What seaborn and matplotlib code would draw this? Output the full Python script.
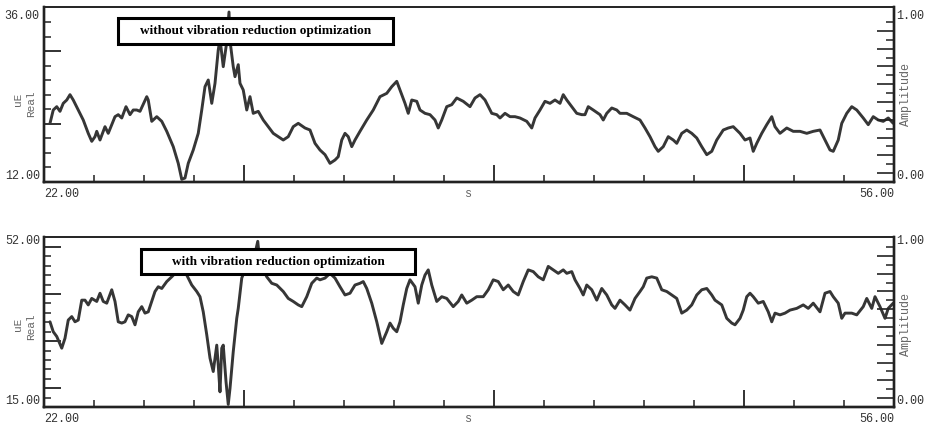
import numpy as np
import pandas as pd
import seaborn as sns
import matplotlib.pyplot as plt
from matplotlib.patches import Rectangle

# strain trace without vibration reduction optimization (s, uE)
t_without = [
    22.24, 22.37, 22.51, 22.64, 22.77, 22.91, 23.04, 23.17, 23.37, 23.57,
    23.77, 23.91, 24.04, 24.11, 24.24, 24.44, 24.57, 24.84, 24.97, 25.11,
    25.28, 25.44, 25.57, 25.71, 25.84, 26.11, 26.17, 26.31, 26.51, 26.71,
    26.91, 27.17, 27.37, 27.51, 27.64, 27.77, 27.97, 28.17, 28.31, 28.44,
    28.57, 28.71, 28.84, 28.97, 29.04, 29.17, 29.31, 29.40, 29.44, 29.57,
    29.64, 29.77, 29.84, 29.97, 30.11, 30.24, 30.37, 30.57, 30.77, 30.91,
    31.17, 31.37, 31.57, 31.77, 31.97, 32.17, 32.44, 32.64, 32.84, 33.04,
    33.24, 33.44, 33.64, 33.77, 33.91, 34.04, 34.17, 34.31, 34.44, 34.64,
    34.91, 35.17, 35.44, 35.71, 35.91, 36.11, 36.24, 36.44, 36.57, 36.71,
    36.91, 37.04, 37.24, 37.44, 37.64, 37.77, 37.91, 38.11, 38.31, 38.51,
    38.77, 39.04, 39.24, 39.44, 39.64, 39.91, 40.11, 40.24, 40.44, 40.64,
    40.84, 41.04, 41.31, 41.51, 41.64, 41.84, 42.04, 42.24, 42.44, 42.64,
    42.77, 42.91, 43.11, 43.31, 43.51, 43.64, 43.77, 43.97, 44.24, 44.37,
    44.51, 44.71, 44.91, 45.04, 45.31, 45.57, 45.84, 46.04, 46.24, 46.44,
    46.57, 46.77, 46.97, 47.17, 47.31, 47.51, 47.71, 47.91, 48.11, 48.31,
    48.51, 48.71, 48.91, 49.17, 49.37, 49.57, 49.84, 50.04, 50.24, 50.37,
    50.51, 50.71, 50.91, 51.11, 51.24, 51.44, 51.71, 51.97, 52.24, 52.51,
    52.77, 53.04, 53.24, 53.44, 53.57, 53.77, 53.91, 54.11, 54.31, 54.51,
    54.77, 54.97, 55.17, 55.37, 55.57, 55.77, 55.97,
]
uE_without = [
    20.8, 22.8, 23.3, 22.6, 23.8, 24.3, 25.1, 24.3, 22.8, 21.3,
    19.3, 18.1, 18.8, 19.6, 18.3, 20.3, 19.3, 21.8, 22.1, 21.6,
    23.3, 22.1, 22.8, 22.8, 22.6, 24.8, 24.3, 21.1, 21.8, 21.1,
    19.6, 17.3, 14.8, 12.4, 12.6, 14.8, 16.8, 19.3, 22.8, 26.3,
    27.3, 23.8, 26.8, 31.8, 33.5, 29.3, 33.0, 37.5, 33.2, 29.3,
    27.8, 29.6, 26.8, 25.8, 22.8, 24.8, 22.3, 22.6, 21.3, 20.6,
    19.3, 18.8, 18.3, 18.8, 20.3, 20.8, 20.1, 19.8, 17.8, 16.8,
    16.1, 14.8, 15.3, 15.8, 18.3, 19.3, 18.8, 17.3, 18.3, 19.6,
    21.3, 22.8, 24.8, 25.3, 26.3, 27.1, 25.8, 23.8, 22.3, 24.3,
    24.1, 22.8, 22.3, 22.1, 21.3, 20.1, 21.3, 23.3, 23.6, 24.6,
    24.1, 23.3, 24.6, 25.1, 24.3, 22.3, 22.1, 21.6, 22.3, 21.8,
    21.8, 21.6, 21.1, 20.1, 21.6, 22.8, 24.1, 23.8, 24.3, 23.8,
    25.1, 24.3, 23.3, 22.3, 22.1, 22.1, 23.3, 22.8, 22.1, 21.3,
    22.3, 23.1, 22.8, 22.3, 22.3, 21.8, 21.3, 20.1, 18.8, 17.3,
    16.6, 17.3, 18.8, 18.3, 17.8, 19.3, 19.8, 19.3, 18.6, 17.3,
    16.1, 16.6, 18.3, 19.8, 20.1, 20.3, 19.3, 18.3, 18.6, 16.6,
    17.8, 19.3, 20.6, 21.8, 20.3, 19.3, 20.1, 19.6, 19.6, 19.3,
    19.6, 19.8, 18.3, 16.8, 16.6, 18.3, 20.8, 22.3, 23.3, 22.8,
    21.6, 20.6, 21.8, 21.3, 21.1, 21.6, 20.8,
]

# strain trace with vibration reduction optimization (s, uE)
t_with = [
    22.24, 22.37, 22.51, 22.71, 22.84, 22.97, 23.11, 23.24, 23.37, 23.51,
    23.64, 23.77, 23.91, 24.11, 24.24, 24.37, 24.51, 24.71, 24.84, 24.97,
    25.11, 25.24, 25.37, 25.51, 25.64, 25.77, 25.91, 26.04, 26.17, 26.31,
    26.44, 26.57, 26.71, 26.91, 27.11, 27.31, 27.51, 27.71, 27.91, 28.11,
    28.24, 28.37, 28.51, 28.64, 28.77, 28.91, 28.97, 29.04, 29.11, 29.17,
    29.28, 29.37, 29.44, 29.57, 29.71, 29.77, 29.91, 30.04, 30.17, 30.37,
    30.55, 30.64, 30.77, 30.91, 31.11, 31.31, 31.57, 31.77, 31.97, 32.17,
    32.31, 32.51, 32.71, 32.91, 33.04, 33.24, 33.44, 33.64, 33.84, 34.04,
    34.24, 34.44, 34.64, 34.77, 34.91, 35.11, 35.31, 35.51, 35.71, 35.84,
    35.97, 36.11, 36.24, 36.37, 36.51, 36.64, 36.84, 36.97, 37.11, 37.24,
    37.37, 37.51, 37.71, 37.91, 38.11, 38.37, 38.57, 38.71, 38.91, 39.11,
    39.31, 39.57, 39.77, 39.97, 40.17, 40.37, 40.57, 40.77, 40.97, 41.17,
    41.37, 41.57, 41.77, 41.97, 42.17, 42.37, 42.57, 42.77, 42.91, 43.11,
    43.24, 43.44, 43.57, 43.71, 43.91, 44.11, 44.31, 44.51, 44.71, 44.84,
    45.04, 45.24, 45.44, 45.64, 45.84, 45.97, 46.11, 46.31, 46.51, 46.71,
    46.91, 47.11, 47.31, 47.51, 47.71, 47.91, 48.11, 48.31, 48.51, 48.71,
    48.84, 49.11, 49.31, 49.51, 49.64, 49.84, 49.97, 50.11, 50.24, 50.37,
    50.57, 50.77, 50.97, 51.11, 51.24, 51.44, 51.64, 51.84, 52.11, 52.37,
    52.57, 52.77, 53.04, 53.24, 53.44, 53.57, 53.77, 53.91, 54.04, 54.31,
    54.51, 54.77, 54.91, 55.11, 55.24, 55.44, 55.64, 55.77, 55.97,
]
uE_with = [
    34.7, 32.4, 31.3, 28.6, 30.9, 35.1, 35.9, 34.7, 35.1, 39.7,
    39.7, 38.6, 40.1, 39.4, 41.3, 39.4, 39.0, 42.1, 39.4, 34.7,
    34.4, 34.7, 36.3, 35.9, 34.0, 37.0, 38.2, 36.7, 37.0, 39.4,
    41.7, 42.8, 42.4, 44.0, 45.1, 46.3, 46.3, 45.5, 43.2, 41.7,
    40.5, 37.0, 31.7, 26.3, 23.2, 29.3, 24.7, 18.5, 28.6, 29.3,
    20.9, 15.6, 19.3, 27.8, 35.5, 37.8, 44.8, 46.7, 48.2, 48.6,
    53.3, 48.2, 46.7, 45.1, 43.6, 43.2, 41.7, 40.1, 39.4, 38.6,
    38.2, 40.5, 43.6, 44.8, 44.4, 44.8, 45.9, 44.8, 42.8, 40.9,
    41.3, 43.2, 43.6, 44.0, 42.4, 39.0, 34.7, 29.7, 32.4, 34.4,
    33.2, 32.4, 34.7, 38.6, 42.4, 44.4, 42.8, 39.0, 43.2, 45.5,
    46.7, 43.2, 39.4, 40.5, 40.1, 38.2, 39.4, 40.9, 39.0, 39.7,
    40.5, 40.5, 42.1, 44.4, 44.0, 42.1, 43.2, 41.7, 40.9, 44.0,
    46.7, 46.3, 45.1, 44.4, 47.5, 46.7, 45.9, 46.7, 45.9, 46.3,
    44.4, 42.4, 40.9, 43.2, 42.1, 39.7, 42.4, 40.9, 38.6, 37.8,
    39.7, 38.6, 37.4, 40.1, 41.7, 42.8, 44.8, 45.1, 44.8, 42.1,
    41.7, 40.9, 40.1, 36.7, 37.4, 38.6, 40.9, 42.1, 42.4, 40.9,
    39.7, 38.6, 35.5, 34.4, 34.0, 35.5, 37.4, 40.5, 41.3, 40.5,
    39.0, 39.4, 37.0, 34.7, 36.7, 36.3, 36.7, 37.4, 37.8, 38.6,
    37.8, 39.0, 37.0, 41.3, 41.7, 40.5, 39.0, 35.5, 36.7, 36.7,
    36.3, 38.2, 40.1, 37.8, 40.5, 38.2, 35.5, 37.8, 39.0,
]

W, H = 929, 425
INK = '#222222'
GREY = '#666666'
MONO = ['Liberation Mono', 'DejaVu Sans Mono']

sns.set_style('white')
plt.rcParams['font.family'] = MONO

fig = plt.figure(figsize=(W / 100, H / 100), dpi=100)

panels = [
    dict(t=t_without, v=uE_without, y_lo=12, y_hi=36, y_top=38.25,
         frame=(44, 7, 894, 182), n_left=11, long_left=(2, 7),
         amp_top=1.094, box=(118, 18, 393, 44),
         note='without vibration reduction optimization',
         uE_y=99, real_y=104, amp_y=95),
    dict(t=t_with, v=uE_with, y_lo=15, y_hi=52, y_top=54.3,
         frame=(44, 237, 894, 407), n_left=17, long_left=(0, 5, 10, 15),
         amp_top=1.0625, box=(141, 249, 415, 274),
         note='with vibration reduction optimization',
         uE_y=324, real_y=327, amp_y=325),
]

for p in panels:
    x0, y0, x1, y1 = p['frame']
    ax = fig.add_axes([x0 / W, 1 - y1 / H, (x1 - x0) / W, (y1 - y0) / H])
    df = pd.DataFrame({'t': p['t'], 'uE': p['v']})
    sns.lineplot(data=df, x='t', y='uE', ax=ax, color='#363636', lw=2.1,
                 estimator=None)
    ax.set_xlim(22, 56)
    ax.set_ylim(p['y_lo'], p['y_top'])
    ax.set_xlabel('')
    ax.set_ylabel('')

    # bottom ticks: every 2 s, long ones at 30/40/50
    ax.set_xticks([30, 40, 50])
    ax.set_xticks([x for x in range(24, 56, 2) if x % 10], minor=True)
    ax.tick_params(axis='x', which='major', direction='in', length=12,
                   width=1.3, color=INK, labelbottom=False, bottom=True)
    ax.tick_params(axis='x', which='minor', direction='in', length=5,
                   width=1.1, color=INK, bottom=True)

    left = np.linspace(p['y_hi'], p['y_lo'], p['n_left'] + 1)
    ax.set_yticks([left[k] for k in p['long_left']])
    ax.set_yticks([v for k, v in enumerate(left) if k not in p['long_left']],
                  minor=True)
    ax.tick_params(axis='y', which='major', direction='in', length=12,
                   width=1.3, color=INK, labelleft=False, left=True)
    ax.tick_params(axis='y', which='minor', direction='in', length=5,
                   width=1.1, color=INK, left=True)

    ax2 = ax.twinx()
    ax2.set_ylim(0, p['amp_top'])
    amp = np.linspace(0, 1, 19)
    ax2.set_yticks(amp[1::2])
    ax2.set_yticks(amp[::2], minor=True)
    ax2.tick_params(axis='y', which='major', direction='in', length=12,
                    width=1.2, color=INK, labelright=False, right=True)
    ax2.tick_params(axis='y', which='minor', direction='in', length=6,
                    width=1.1, color=INK, right=True)

    for a in (ax, ax2):
        for side, sp in a.spines.items():
            sp.set_visible(True)
            sp.set_color(INK)
            sp.set_linewidth(1.2 if side == 'top' else 1.7)

    # tick texts sit just above their ticks like the original software draws them
    yt = ax.get_yaxis_transform()
    ax.text(-0.005, p['y_hi'], f"{p['y_hi']:.2f}", transform=yt, ha='right',
            va='bottom', fontsize=8.5, color='#333333')
    ax.text(-0.005, p['y_lo'], f"{p['y_lo']:.2f}", transform=yt, ha='right',
            va='bottom', fontsize=8.5, color='#333333')
    yt2 = ax2.get_yaxis_transform()
    ax2.text(1.003, 1.0, '1.00', transform=yt2, ha='left', va='bottom',
             fontsize=8.5, color='#333333')
    ax2.text(1.003, 0.0, '0.00', transform=yt2, ha='left', va='bottom',
             fontsize=8.5, color='#333333')
    xt = ax.get_xaxis_transform()
    ax.text(22, -0.035, '22.00', transform=xt, ha='left', va='top',
            fontsize=8.5, color='#333333')
    ax.text(56, -0.035, '56.00', transform=xt, ha='right', va='top',
            fontsize=8.5, color='#333333')
    ax.text(39.0, -0.035, 's', transform=xt, ha='center', va='top',
            fontsize=8.5, color=GREY)

    fig.text(18 / W, 1 - p['uE_y'] / H, 'uE', rotation=90, ha='center',
             va='center', fontsize=8, color=GREY)
    fig.text(31 / W, 1 - p['real_y'] / H, 'Real', rotation=90, ha='center',
             va='center', fontsize=8, color=GREY)
    fig.text(906 / W, 1 - p['amp_y'] / H, 'Amplitude', rotation=90,
             ha='center', va='center', fontsize=8.5, color=GREY)

    bx0, by0, bx1, by1 = p['box']
    fig.add_artist(Rectangle((bx0 / W, 1 - by1 / H), (bx1 - bx0) / W,
                             (by1 - by0) / H, transform=fig.transFigure,
                             facecolor='white', edgecolor='black', lw=2.2,
                             zorder=10))
    fig.text((bx0 + bx1) / 2 / W, 1 - (by0 + by1) / 2 / H, p['note'],
             ha='center', va='center', fontsize=9.5, fontweight='bold',
             family='Liberation Serif', color='black', zorder=11)

fig.savefig('out.png', dpi=100)
